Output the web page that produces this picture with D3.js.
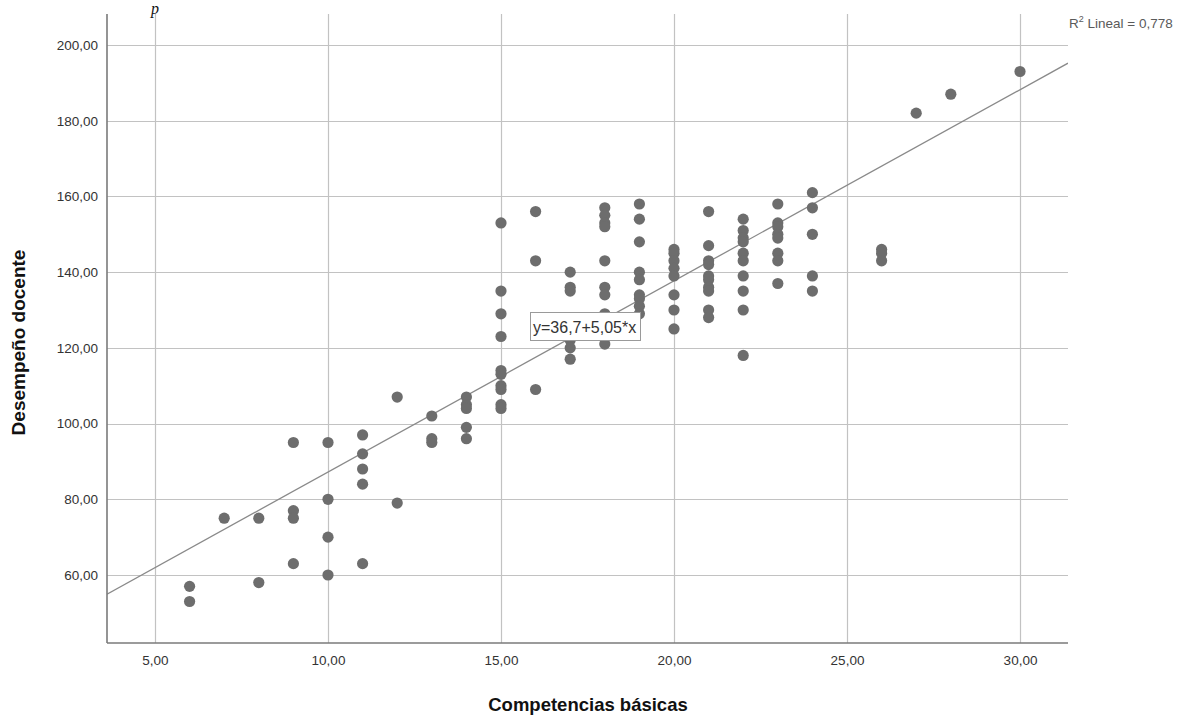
<!DOCTYPE html>
<html lang="es">
<head>
<meta charset="utf-8">
<script src="https://cdn.jsdelivr.net/npm/d3@7"></script>
<style>
  html, body { margin: 0; padding: 0; background: #fff; }
  svg { display: block; font-family: "Liberation Sans", Arial, sans-serif; }
</style>
</head>
<body>
<svg id="chart" width="1187" height="716"></svg>
<script>
// Competencias básicas (x) and Desempeño docente (y), one entry per respondent
const competencias = [
  6, 6,
  7,
  8, 8,
  9, 9, 9, 9,
  10, 10, 10, 10,
  11, 11, 11, 11, 11,
  12, 12,
  13, 13, 13,
  14, 14, 14, 14, 14,
  15, 15, 15, 15, 15, 15, 15, 15, 15, 15,
  16, 16, 16,
  17, 17, 17, 17, 17, 17,
  18, 18, 18, 18, 18, 18, 18, 18, 18,
  19, 19, 19, 19, 19, 19, 19, 19, 19,
  20, 20, 20, 20, 20, 20, 20, 20,
  21, 21, 21, 21, 21, 21, 21, 21, 21, 21,
  22, 22, 22, 22, 22, 22, 22, 22, 22, 22,
  23, 23, 23, 23, 23, 23, 23, 23,
  24, 24, 24, 24, 24,
  26, 26, 26,
  27,
  28,
  30
];
const desempeno = [
  57, 53,
  75,
  75, 58,
  95, 77, 75, 63,
  95, 80, 70, 60,
  97, 92, 88, 84, 63,
  107, 79,
  102, 96, 95,
  107, 105, 104, 99, 96,
  153, 135, 129, 123, 114, 113, 110, 109, 105, 104,
  156, 143, 109,
  140, 136, 135, 122, 120, 117,
  157, 155, 153, 152, 143, 136, 134, 129, 121,
  158, 154, 148, 140, 138, 134, 133, 131, 129,
  146, 145, 143, 141, 139, 134, 130, 125,
  156, 147, 143, 142, 139, 138, 136, 135, 130, 128,
  154, 151, 149, 148, 145, 143, 139, 135, 130, 118,
  158, 153, 152, 150, 149, 145, 143, 137,
  161, 157, 150, 139, 135,
  146, 145, 143,
  182,
  187,
  193
];

// Linear fit reported on the chart
const intercepto = 36.7;
const pendiente = 5.05;
const r2 = 0.778;

const xTicks = [5, 10, 15, 20, 25, 30];
const yTicks = [60, 80, 100, 120, 140, 160, 180, 200];

const xTitle = "Competencias básicas";
const yTitle = "Desempeño docente";

// ---- layout ----
const plot = { left: 107, right: 1068, top: 14, bottom: 643 };

const svg = d3.select("#chart");

const x = d3.scaleLinear().domain([3.613, 31.387]).range([plot.left, plot.right]);
const y = d3.scaleLinear().domain([42.04, 208.19]).range([plot.bottom, plot.top]);

const es = d3.formatLocale({ decimal: ",", thousands: ".", grouping: [3], currency: ["", " €"] });
const fmt2 = es.format(".2f");
const fmt1 = es.format(".1f");
const fmt3 = es.format(".3f");

// fragment of the caption text above the chart
svg.append("text")
  .attr("x", 151).attr("y", 14)
  .attr("font-family", "'Liberation Serif', serif")
  .attr("font-style", "italic")
  .attr("font-size", 16)
  .attr("fill", "#111")
  .text("p");

// ---- grid ----
const grid = svg.append("g").attr("stroke", "#c2c2c2").attr("stroke-width", 1.2);
grid.selectAll("line.h").data(yTicks).join("line")
  .attr("class", "h")
  .attr("x1", plot.left).attr("x2", plot.right)
  .attr("y1", d => Math.round(y(d)) + 0.5).attr("y2", d => Math.round(y(d)) + 0.5);
grid.selectAll("line.v").data(xTicks).join("line")
  .attr("class", "v")
  .attr("y1", plot.top).attr("y2", plot.bottom)
  .attr("x1", d => Math.round(x(d)) + 0.5).attr("x2", d => Math.round(x(d)) + 0.5);

// ---- fit line ----
svg.append("clipPath").attr("id", "plotClip")
  .append("rect")
  .attr("x", plot.left).attr("y", plot.top)
  .attr("width", plot.right - plot.left).attr("height", plot.bottom - plot.top);

const [x0, x1] = x.domain();
svg.append("line")
  .attr("clip-path", "url(#plotClip)")
  .attr("x1", x(x0)).attr("y1", y(intercepto + pendiente * x0))
  .attr("x2", x(x1)).attr("y2", y(intercepto + pendiente * x1))
  .attr("stroke", "#8a8a8a")
  .attr("stroke-width", 1.3);

// ---- points ----
svg.append("g").selectAll("circle")
  .data(d3.zip(competencias, desempeno))
  .join("circle")
  .attr("cx", d => x(d[0]))
  .attr("cy", d => y(d[1]))
  .attr("r", 5.6)
  .attr("fill", "#6d6d6d");

// ---- axes ----
const xAxis = d3.axisBottom(x).tickValues(xTicks).tickFormat(fmt2).tickSize(0).tickPadding(12);
const yAxis = d3.axisLeft(y).tickValues(yTicks).tickFormat(fmt2).tickSize(0).tickPadding(9);

const gx = svg.append("g").attr("transform", `translate(0,${plot.bottom})`).call(xAxis);
const gy = svg.append("g").attr("transform", `translate(${plot.left},0)`).call(yAxis);

[gx, gy].forEach(g => {
  g.select(".domain").remove();
  g.selectAll("text")
    .attr("font-family", "'Liberation Sans', Arial, sans-serif")
    .attr("font-size", 13.5)
    .attr("fill", "#333");
});

// axis lines (left and bottom)
svg.append("line")
  .attr("x1", plot.left).attr("x2", plot.left)
  .attr("y1", plot.top).attr("y2", plot.bottom)
  .attr("stroke", "#7a7a7a").attr("stroke-width", 1.6);
svg.append("line")
  .attr("x1", plot.left).attr("x2", plot.right)
  .attr("y1", plot.bottom).attr("y2", plot.bottom)
  .attr("stroke", "#7a7a7a").attr("stroke-width", 1.6);

// ---- axis titles ----
svg.append("text")
  .attr("x", (plot.left + plot.right) / 2 + 0.5)
  .attr("y", 711)
  .attr("text-anchor", "middle")
  .attr("font-size", 18.5)
  .attr("font-weight", "bold")
  .attr("fill", "#111")
  .text(xTitle);

svg.append("text")
  .attr("transform", `translate(25,${(plot.top + plot.bottom) / 2 + 14}) rotate(-90)`)
  .attr("text-anchor", "middle")
  .attr("font-size", 19)
  .attr("font-weight", "bold")
  .attr("fill", "#111")
  .text(yTitle);

// ---- R² note ----
const r2Text = svg.append("text")
  .attr("x", plot.right + 1)
  .attr("y", 28)
  .attr("font-size", 13.5)
  .attr("fill", "#5a5a5a");
r2Text.append("tspan").text("R");
r2Text.append("tspan").attr("dy", -6).attr("font-size", 9).text("2");
r2Text.append("tspan").attr("dy", 6).text(" Lineal = " + fmt3(r2));

// ---- equation label ----
const eqLabel = svg.append("g").attr("transform", "translate(530,312)");
const eqText = eqLabel.append("text")
  .attr("x", 3).attr("y", 20.5)
  .attr("font-size", 16)
  .attr("fill", "#333")
  .text(`y=${fmt1(intercepto)}+${fmt2(pendiente)}*x`);
const bb = eqText.node().getBBox();
eqLabel.insert("rect", "text")
  .attr("x", 0.5).attr("y", 0.5)
  .attr("width", Math.ceil(bb.width) + 6).attr("height", 28)
  .attr("fill", "#fff")
  .attr("stroke", "#9a9a9a")
  .attr("stroke-width", 1);
</script>
</body>
</html>
